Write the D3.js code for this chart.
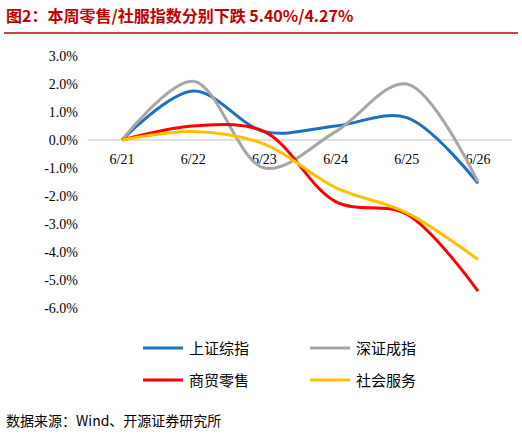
<!DOCTYPE html><html><head><meta charset="utf-8"><script src="https://d3js.org/d3.v7.min.js"></script>
<style>body{margin:0;background:#fff}</style></head><body><svg id="c" width="522" height="436"></svg>
<script>
const categories=["6/21","6/22","6/23","6/24","6/25","6/26"];
const yTicks=[3,2,1,0,-1,-2,-3,-4,-5,-6];
const seriesNames=["上证综指","深证成指","商贸零售","社会服务"];
const colors=["#1f6fc0","#a6a6a6","#ff0000","#ffc000"];
const shIndex=[0,1.75,0.3,0.5,0.8,-1.55];
const szIndex=[0,2.1,-1.0,0.3,2.0,-1.5];
const retail=[0,0.5,0.3,-2.2,-2.65,-5.40];
const service=[0,0.3,-0.15,-1.7,-2.6,-4.27];
const data=[shIndex,szIndex,retail,service];
const svg=d3.select("#c");
const font="'Noto Sans CJK SC','Liberation Serif',serif";
const tfont="'Liberation Serif',serif";
svg.append("text").attr("x",6).attr("y",22).attr("fill","#c00000").attr("font-weight","bold").attr("font-size",16).attr("font-family",font).text("图2：本周零售/社服指数分别下跌 5.40%/4.27%");
svg.append("line").attr("x1",4).attr("x2",518).attr("y1",33).attr("y2",33).attr("stroke","#c00000").attr("stroke-width",1.5);
const x=d3.scalePoint().domain(categories).range([122,478]);
const y=d3.scaleLinear().domain([-6,3]).range([308,56]);
const g=svg.append("g");
g.append("line").attr("x1",88).attr("x2",512).attr("y1",y(0)).attr("y2",y(0)).attr("stroke","#bfbfbf");
yTicks.forEach(t=>{g.append("text").attr("x",78).attr("y",y(t)+5).attr("text-anchor","end").attr("font-size",14).attr("font-family",tfont).text(t.toFixed(1)+"%");});
categories.forEach(c=>{g.append("text").attr("x",x(c)).attr("y",y(0)+24).attr("text-anchor","middle").attr("font-size",14).attr("font-family",tfont).text(c);});
const line=d3.line().x((d,i)=>x(categories[i])).y(d=>y(d)).curve(d3.curveCatmullRom.alpha(0.5));
data.forEach((s,k)=>g.append("path").attr("d",line(s)).attr("fill","none").attr("stroke",colors[k]).attr("stroke-width",3));
const lp=[[143,348],[310,348],[143,380],[310,380]];
seriesNames.forEach((n,k)=>{
 svg.append("line").attr("x1",lp[k][0]).attr("x2",lp[k][0]+40).attr("y1",lp[k][1]).attr("y2",lp[k][1]).attr("stroke",colors[k]).attr("stroke-width",3);
 svg.append("text").attr("x",lp[k][0]+46).attr("y",lp[k][1]+6).attr("font-size",15).attr("font-family",font).text(n);
});
svg.append("text").attr("x",6).attr("y",426).attr("font-size",14).attr("font-family",font).text("数据来源：Wind、开源证券研究所");
</script></body></html>
